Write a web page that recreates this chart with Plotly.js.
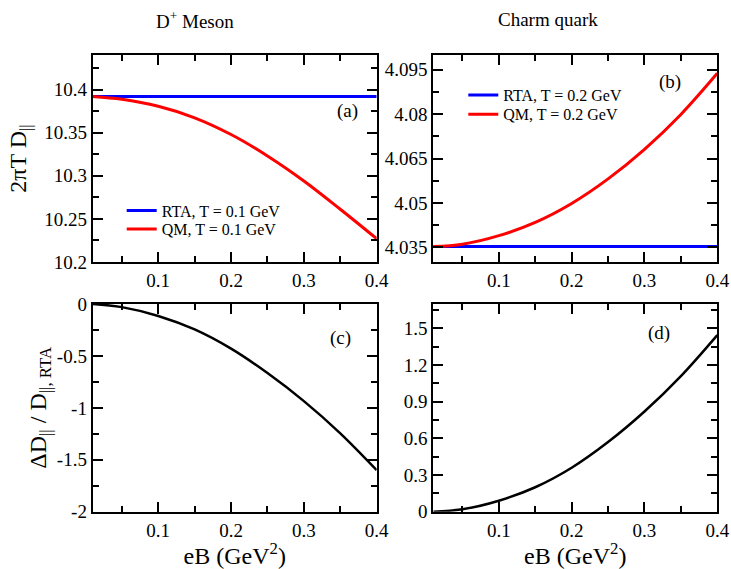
<!DOCTYPE html>
<html>
<head>
<meta charset="utf-8">
<script src="https://cdn.plot.ly/plotly-3.0.1.min.js"></script>
<style>html,body{margin:0;padding:0;background:#fff;}#chart{width:731px;height:569px;}</style>
</head>
<body>
<div id="chart"></div>
<script>
// eB values (GeV^2)
const eB = [0.01, 0.05, 0.1, 0.15, 0.2, 0.25, 0.3, 0.35, 0.4];
// (a) D+ meson, T = 0.1 GeV : 2πT D||
const rtaMeson = [10.392, 10.392, 10.392, 10.392, 10.392, 10.392, 10.392, 10.392, 10.392];
const qmMeson  = [10.392, 10.3887, 10.3805, 10.3672, 10.3478, 10.3230, 10.2940, 10.2612, 10.2270];
// (b) charm quark, T = 0.2 GeV : 2πT D||
const rtaCharm = [4.0352, 4.0352, 4.0352, 4.0352, 4.0352, 4.0352, 4.0352, 4.0352, 4.0352];
const qmCharm  = [4.0352, 4.0360, 4.0389, 4.0434, 4.0498, 4.0581, 4.0681, 4.0799, 4.0938];
// (c),(d) relative difference ΔD|| / D||,RTA (%)
const relMeson = [0, -0.03, -0.115, -0.245, -0.43, -0.665, -0.935, -1.245, -1.6];
const relCharm = [0, 0.02, 0.09, 0.2, 0.36, 0.57, 0.82, 1.11, 1.446];

const legendLabels = {
  rtaA: 'RTA, T = 0.1 GeV', qmA: 'QM, T = 0.1 GeV',
  rtaB: 'RTA, T = 0.2 GeV', qmB: 'QM, T = 0.2 GeV'
};
const xTickVals = [0.1, 0.2, 0.3, 0.4];
const yTicksA = [10.2, 10.25, 10.3, 10.35, 10.4];
const yTicksB = [4.035, 4.05, 4.065, 4.08, 4.095];
const yTicksC = [0, -0.5, -1, -1.5, -2];
const yTickTextC = ['0', '-0.5', '-1', '-1.5', '-2'];
const yTicksD = [0, 0.3, 0.6, 0.9, 1.2, 1.5];

const FONT = 'Liberation Serif';
const W = 731, H = 569;

const traces = [
  {x: eB, y: rtaMeson, xaxis: 'x', yaxis: 'y', name: legendLabels.rtaA, mode: 'lines',
   line: {color: '#0000ff', width: 3}, legend: 'legend'},
  {x: eB, y: qmMeson, xaxis: 'x', yaxis: 'y', name: legendLabels.qmA, mode: 'lines',
   line: {color: '#ff0000', width: 3, shape: 'spline'}, legend: 'legend2'},
  {x: eB, y: rtaCharm, xaxis: 'x2', yaxis: 'y2', name: legendLabels.rtaB, mode: 'lines',
   line: {color: '#0000ff', width: 3}, legend: 'legend3'},
  {x: eB, y: qmCharm, xaxis: 'x2', yaxis: 'y2', name: legendLabels.qmB, mode: 'lines',
   line: {color: '#ff0000', width: 3, shape: 'spline'}, legend: 'legend4'},
  {x: eB, y: relMeson, xaxis: 'x3', yaxis: 'y3', mode: 'lines', showlegend: false,
   line: {color: '#000000', width: 2.5, shape: 'spline'}},
  {x: eB, y: relCharm, xaxis: 'x4', yaxis: 'y4', mode: 'lines', showlegend: false,
   line: {color: '#000000', width: 2.5, shape: 'spline'}}
];

const dxL = [92.7 / W, 376.7 / W];
const dxR = [433.3 / W, 717.3 / W];
const dyT = [1 - 262 / H, 1 - 55 / H];
const dyB = [1 - 511.7 / H, 1 - 304 / H];

function xAxis(domain, anchor, title) {
  const a = {
    domain: domain, anchor: anchor, range: [0.01, 0.4],
    tickvals: xTickVals, ticks: 'inside', ticklen: 10, tickwidth: 2, tickcolor: '#000',
    minor: {dtick: 0.05, tick0: 0, ticks: 'inside', ticklen: 6, tickwidth: 2, tickcolor: '#000'},
    showline: true, linewidth: 2, linecolor: '#000', mirror: 'allticks',
    showgrid: false, zeroline: false,
    tickfont: {family: FONT, size: 19, color: '#000'}
  };
  if (title) a.title = {text: title, font: {family: FONT, size: 24, color: '#000'}, standoff: 6};
  return a;
}
function yAxis(domain, anchor, range, vals, minorDt, title, text, standoff) {
  const a = {
    domain: domain, anchor: anchor, range: range,
    tickvals: vals, ticks: 'inside', ticklen: 10, tickwidth: 2, tickcolor: '#000',
    minor: {dtick: minorDt, tick0: vals[0], ticks: 'inside', ticklen: 6, tickwidth: 2, tickcolor: '#000'},
    showline: true, linewidth: 2, linecolor: '#000', mirror: 'allticks',
    showgrid: false, zeroline: false,
    tickfont: {family: FONT, size: 19, color: '#000'}
  };
  if (text) a.ticktext = text;
  if (title) a.title = {text: title, font: {family: FONT, size: 24, color: '#000'}, standoff: standoff};
  return a;
}
function legendAt(px, py) {
  return {x: px / W, y: 1 - py / H, xanchor: 'left', yanchor: 'middle',
          bgcolor: 'rgba(0,0,0,0)', borderwidth: 0,
          font: {family: FONT, size: 16, color: '#000'}};
}

const NB = '\u00A0';
const layout = {
  width: W, height: H,
  margin: {l: 0, r: 0, t: 0, b: 0},
  paper_bgcolor: '#fff', plot_bgcolor: '#fff',
  font: {family: FONT, color: '#000'},
  xaxis: xAxis(dxL, 'y'),
  yaxis: yAxis(dyT, 'x', [10.2, 10.44], yTicksA, 0.025, '2πT D<sub>||</sub>', null, 11),
  xaxis2: xAxis(dxR, 'y2'),
  yaxis2: yAxis(dyT, 'x2', [4.03, 4.1], yTicksB, 0.0075, null, null, 0),
  xaxis3: xAxis(dxL, 'y3', 'eB (GeV<sup>2</sup>)'),
  yaxis3: yAxis(dyB, 'x3', [-2, 0], yTicksC, 0.25,
                'ΔD<sub>||</sub>' + NB + '/' + NB + 'D<sub>||,' + NB + 'RTA</sub>', yTickTextC, 3),
  xaxis4: xAxis(dxR, 'y4', 'eB (GeV<sup>2</sup>)'),
  yaxis4: yAxis(dyB, 'x4', [0, 1.7], yTicksD, 0.15, null, null, 0),
  legend: legendAt(121.7, 210.7),
  legend2: legendAt(121.7, 229),
  legend3: legendAt(463.3, 95),
  legend4: legendAt(463.3, 114.3),
  annotations: [
    {text: 'D<sup>+</sup> Meson', xref: 'paper', yref: 'paper', x: 195.5 / W, y: 1 - 20 / H,
     xanchor: 'center', yanchor: 'middle',
     showarrow: false, font: {family: FONT, size: 19, color: '#000'}},
    {text: 'Charm quark', xref: 'paper', yref: 'paper', x: 548.3 / W, y: 1 - 20 / H,
     xanchor: 'center', yanchor: 'middle',
     showarrow: false, font: {family: FONT, size: 19, color: '#000'}},
    {text: '(a)', xref: 'x', yref: 'y', x: 0.36, y: 10.375, showarrow: false,
     font: {family: FONT, size: 19, color: '#000'}},
    {text: '(b)', xref: 'x2', yref: 'y2', x: 0.3346, y: 4.091, showarrow: false,
     font: {family: FONT, size: 19, color: '#000'}},
    {text: '(c)', xref: 'x3', yref: 'y3', x: 0.3496, y: -0.328, showarrow: false,
     font: {family: FONT, size: 19, color: '#000'}},
    {text: '(d)', xref: 'x4', yref: 'y4', x: 0.3195, y: 1.462, showarrow: false,
     font: {family: FONT, size: 19, color: '#000'}}
  ]
};

Plotly.newPlot('chart', traces, layout, {displayModeBar: false, staticPlot: true});
</script>
</body>
</html>
